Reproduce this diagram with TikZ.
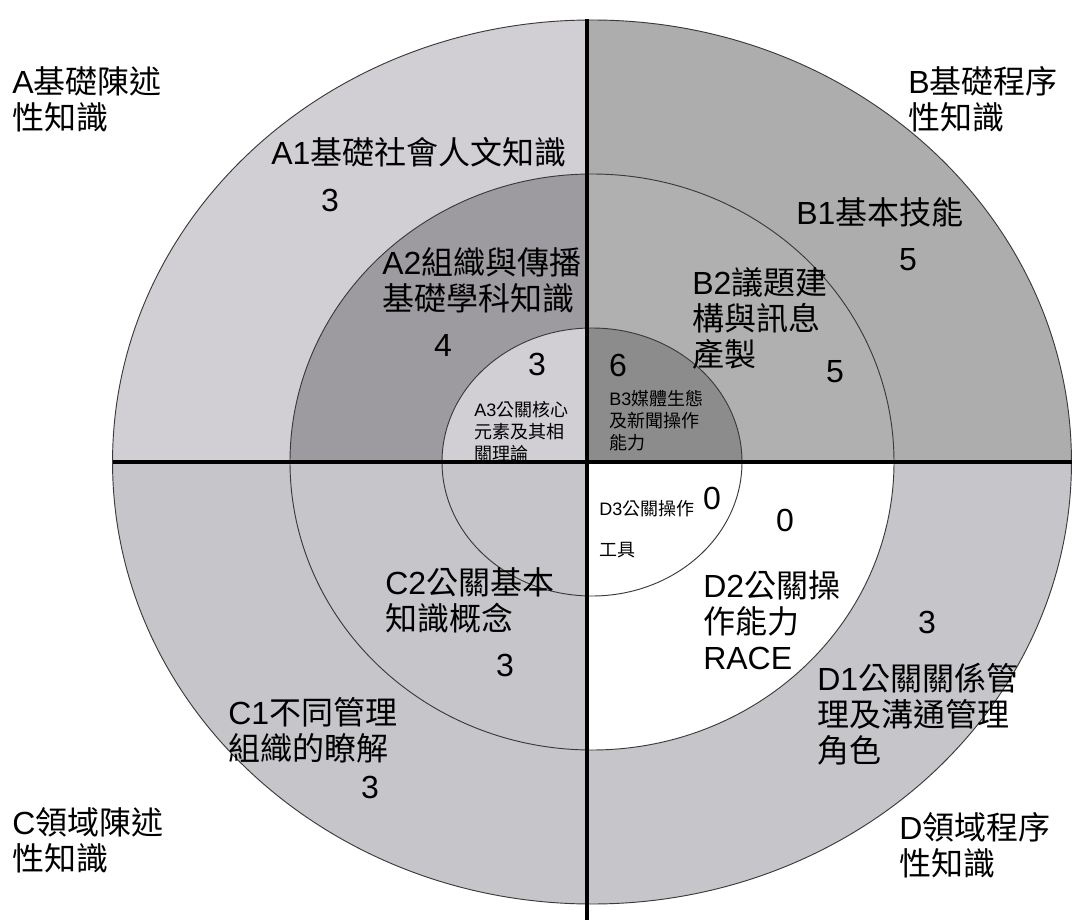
\documentclass[tikz,border=0pt]{standalone}
\usepackage{fontspec}
\setmainfont{Liberation Sans}
\newfontfamily\cjk{Noto Sans CJK TC}
\definecolor{aOut}{HTML}{D1CFD4}
\definecolor{aMid}{HTML}{9D9B9F}
\definecolor{bOut}{HTML}{ADADAD}
\definecolor{bMid}{HTML}{B0B0B0}
\definecolor{bIn}{HTML}{8C8C8C}
\definecolor{cAll}{HTML}{C6C5C9}
\definecolor{ringline}{HTML}{3A3A3A}
\begin{document}
\begin{tikzpicture}[x=0.75pt,y=-0.75pt,
  big/.style={font=\fontsize{24}{27}\selectfont, align=left, inner sep=0pt, anchor=west},
  small/.style={font=\fontsize{13.5}{16.5}\selectfont, align=left, inner sep=0pt, anchor=west},
  num/.style={font=\fontsize{24}{27}\selectfont, inner sep=0pt},
  ring/.style={draw=ringline, line width=0.7pt},
  axis/.style={line width=3pt, black}]
\useasboundingbox (0,0) rectangle (1076,920);
\coordinate (O) at (592,462);
\def\ROx{359.6pt}\def\ROy{331.5pt}
\def\RMx{226.5pt}\def\RMy{216pt}
\def\RIx{112.5pt}\def\RIy{100.5pt}
% quadrant A (top-left)
\begin{scope}
  \clip (0,0) rectangle (587,462);
  \fill[aOut] (O) ellipse [x radius=\ROx, y radius=\ROy];
  \fill[aMid] (O) ellipse [x radius=\RMx, y radius=\RMy];
  \fill[aOut] (O) ellipse [x radius=\RIx, y radius=\RIy];
\end{scope}
% quadrant B (top-right)
\begin{scope}
  \clip (587,0) rectangle (1076,462);
  \fill[bOut] (O) ellipse [x radius=\ROx, y radius=\ROy];
  \fill[bMid] (O) ellipse [x radius=\RMx, y radius=\RMy];
  \fill[bIn] (O) ellipse [x radius=\RIx, y radius=\RIy];
\end{scope}
% quadrant C (bottom-left)
\begin{scope}
  \clip (0,462) rectangle (587,920);
  \fill[cAll] (O) ellipse [x radius=\ROx, y radius=\ROy];
\end{scope}
% quadrant D (bottom-right)
\begin{scope}
  \clip (587,462) rectangle (1076,920);
  \fill[cAll] (O) ellipse [x radius=\ROx, y radius=\ROy];
  \fill[white] (O) ellipse [x radius=\RMx, y radius=\RMy];
\end{scope}
% ring outlines
\draw[ring] (O) ellipse [x radius=\ROx, y radius=\ROy];
\draw[ring] (O) ellipse [x radius=\RMx, y radius=\RMy];
\draw[ring] (O) ellipse [x radius=\RIx, y radius=\RIy];
% axes
\coordinate (vt) at (587,19);
\coordinate (vb) at (587,920);
\coordinate (hl) at (113,462);
\coordinate (hr) at (1072,462);
\draw[axis] (vt) -- (vb);
\draw[axis] (hl) -- (hr);
% quadrant titles
\node[big] (labA) at (12,99) {A{\cjk 基礎陳述}\\{\cjk 性知識}};
\node[big] (labB) at (908,99) {B{\cjk 基礎程序}\\{\cjk 性知識}};
\node[big] (labC) at (12,840) {C{\cjk 領域陳述}\\{\cjk 性知識}};
\node[big] (labD) at (899,845) {D{\cjk 領域程序}\\{\cjk 性知識}};
% ring labels
\node[big] (labA1) at (271,152) {A1{\cjk 基礎社會人文知識}};
\node[big] (labA2) at (382,280) {A2{\cjk 組織與傳播}\\{\cjk 基礎學科知識}};
\node[small] (labA3) at (474,432) {A3{\cjk 公關核心}\\{\cjk 元素及其相}\\{\cjk 關理論}};
\node[big] (labB1) at (796,212) {B1{\cjk 基本技能}};
\node[big] (labB2) at (692,318) {B2{\cjk 議題建}\\{\cjk 構與訊息}\\{\cjk 產製}};
\node[small] (labB3) at (609,421) {B3{\cjk 媒體生態}\\{\cjk 及新聞操作}\\{\cjk 能力}};
\node[big] (labC1) at (228,730) {C1{\cjk 不同管理}\\{\cjk 組織的瞭解}};
\node[big] (labC2) at (385,600) {C2{\cjk 公關基本}\\{\cjk 知識概念}};
\node[big] (labD1) at (817,714) {D1{\cjk 公關關係管}\\{\cjk 理及溝通管理}\\{\cjk 角色}};
\node[big] (labD2) at (703,620) {D2{\cjk 公關操}\\{\cjk 作能力}\\RACE};
\node[small] (labD3) at (599,529) {D3{\cjk 公關操作}\\[14pt]{\cjk 工具}};
% scores
\node[num] (nA1) at (330,200) {3};
\node[num] (nA2) at (443,345) {4};
\node[num] (nA3) at (537,364) {3};
\node[num] (nB1) at (908,260) {5};
\node[num] (nB2) at (835,372) {5};
\node[num] (nB3) at (618,365) {6};
\node[num] (nC1) at (370,787) {3};
\node[num] (nC2) at (505,665) {3};
\node[num] (nD1) at (927,622) {3};
\node[num] (nD2) at (785,520) {0};
\node[num] (nD3) at (712,498) {0};
\end{tikzpicture}
\end{document}
